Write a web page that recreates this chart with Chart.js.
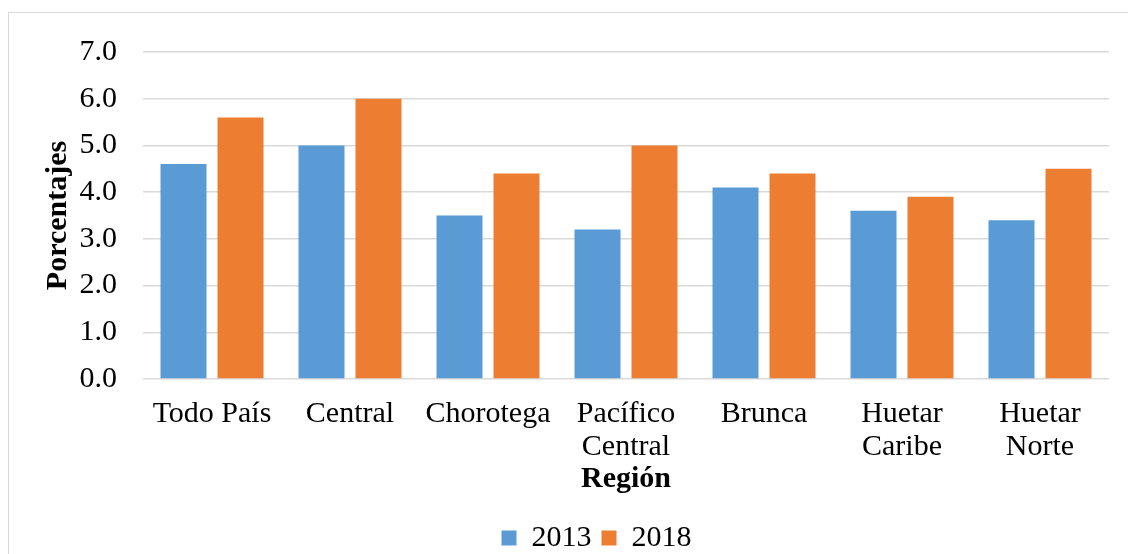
<!DOCTYPE html>
<html>
<head>
<meta charset="utf-8">
<script src="https://cdn.jsdelivr.net/npm/chart.js@4"></script>
<style>
  body { margin: 0; background: #fff; overflow: hidden; }
  #frame { position: absolute; left: 8px; top: 12px; width: 1200px; height: 600px; border: 1px solid #d9d9d9; }
  #wrap { position: absolute; left: 0; top: 0; width: 1128px; height: 554px; }
</style>
</head>
<body>
<div id="frame"></div>
<div id="wrap"><canvas id="my-chart"></canvas></div>
<script>
// data
const regions = [['Todo País'], ['Central'], ['Chorotega'], ['Pacífico', 'Central'], ['Brunca'], ['Huetar', 'Caribe'], ['Huetar', 'Norte']]
const values2013 = [4.6, 5.0, 3.5, 3.2, 4.1, 3.6, 3.4]
const values2018 = [5.6, 6.0, 4.4, 5.0, 4.4, 3.9, 4.5]
const yTicks = [0, 1, 2, 3, 4, 5, 6, 7]

const serif = 'Liberation Serif, Times New Roman, serif'

let ctx = document.getElementById('my-chart').getContext('2d')

const data = {
  labels: regions,
  datasets: [
    { label: '2013', data: values2013, backgroundColor: '#5b9bd5' },
    { label: '2018', data: values2018, backgroundColor: '#ed7d31' },
  ]
}

// the legend in the original is centred a bit right of the plot
const legendShift = {
  id: 'legendShift',
  afterLayout: (chart) => {
    chart.legend.left += 22
    chart.legend.right += 22
  }
}

const options = {
  responsive: true,
  maintainAspectRatio: false,
  animation: false,
  // legend sits lower than the default layout allows, hence the negative bottom
  layout: { padding: { left: 40, right: 19, top: 52, bottom: -9 } },
  datasets: { bar: { categoryPercentage: 0.826, barPercentage: 0.807 } },
  plugins: {
    tooltip: { enabled: false },
    legend: {
      position: 'bottom',
      labels: {
        color: '#000',
        font: { family: serif, size: 30 },
        boxWidth: 15,
        boxHeight: 15,
        padding: 10,
      }
    }
  },
  scales: {
    x: {
      grid: { display: false },
      border: { display: false },
      afterFit: (axis) => { axis.height = 134 },
      ticks: { color: '#000', font: { family: serif, size: 30, lineHeight: 1.1 }, padding: 11, maxRotation: 0 },
      title: { display: true, text: 'Región', color: '#000', font: { family: serif, size: 30, weight: 'bold' }, padding: { top: 0, bottom: 16 } }
    },
    y: {
      min: 0,
      max: 7,
      afterBuildTicks: (axis) => { axis.ticks = yTicks.map(v => ({ value: v })) },
      afterFit: (axis) => { axis.width = 103 },
      grid: { color: '#d9d9d9', lineWidth: 1.5, drawTicks: false },
      border: { display: false },
      ticks: {
        color: '#000',
        font: { family: serif, size: 30 },
        padding: 26,
        callback: (value) => value.toFixed(1)
      },
      title: { display: true, text: 'Porcentajes', color: '#000', font: { family: serif, size: 30, weight: 'bold' }, padding: 0 }
    }
  }
}

const myChart = new Chart(ctx, { type: 'bar', data: data, options: options, plugins: [legendShift] })
</script>
</body>
</html>
